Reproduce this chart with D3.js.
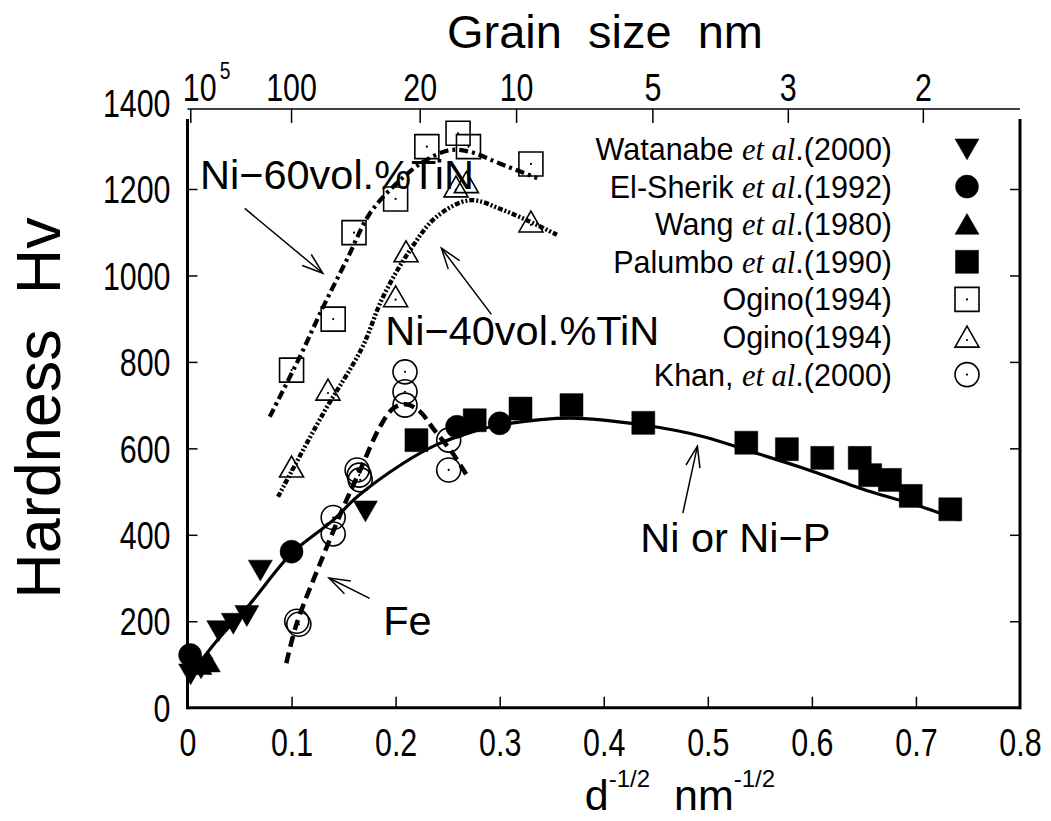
<!DOCTYPE html>
<html>
<head>
<meta charset="utf-8">
<script src="https://cdn.jsdelivr.net/npm/d3@7"></script>
<style>
  html, body { margin: 0; padding: 0; background: #fff; }
  svg { display: block; }
  text { font-family: "Liberation Sans", Arial, Helvetica, sans-serif; fill: #000; }
  .serif { font-family: "Liberation Serif", "Times New Roman", serif; font-style: italic; }
</style>
</head>
<body>
<svg id="chart" width="1051" height="821"></svg>
<script>
// ---- axis ticks ----
const xTicks = [0, 0.1, 0.2, 0.3, 0.4, 0.5, 0.6, 0.7, 0.8];
const yTicks = [0, 200, 400, 600, 800, 1000, 1200, 1400];
const grainSizes = [100000, 100, 20, 10, 5, 3, 2];      // nm, top axis
const grainLabels = ["10", "100", "20", "10", "5", "3", "2"];

// ---- measured data: [d^-1/2 (nm^-1/2), Hv] ----
const watanabe = [[0.003, 78], [0.013, 92], [0.030, 178], [0.044, 195], [0.057, 213], [0.070, 318], [0.171, 455]];
const elSherik = [[0.0025, 122], [0.100, 361], [0.259, 650], [0.300, 658]];
const wang = [[0.012, 100], [0.020, 106]];
const palumbo = [[0.220, 619], [0.276, 665], [0.320, 692], [0.369, 700], [0.438, 659], [0.537, 613],
                 [0.576, 598], [0.610, 578], [0.646, 578], [0.656, 538], [0.675, 527], [0.695, 490], [0.733, 459]];
const oginoSq = [[0.100, 781], [0.140, 899], [0.160, 1099], [0.200, 1177], [0.230, 1298], [0.260, 1329], [0.270, 1298], [0.330, 1258]];
const oginoTri = [[0.100, 557], [0.135, 735], [0.200, 951], [0.210, 1055], [0.258, 1205], [0.268, 1215], [0.330, 1124]];
const khan = [[0.105, 200], [0.107, 193], [0.140, 440], [0.140, 402], [0.163, 550], [0.165, 538], [0.166, 527],
              [0.209, 777], [0.209, 731], [0.209, 700], [0.251, 619], [0.251, 550]];

// ---- fitted trend curves ----
const curveNiP = [[0.004, 80], [0.030, 160], [0.060, 240], [0.100, 357], [0.140, 434], [0.163, 488], [0.207, 565],
                  [0.239, 608], [0.272, 637], [0.300, 654], [0.368, 670], [0.438, 654], [0.496, 627], [0.537, 596],
                  [0.592, 554], [0.656, 500], [0.700, 469], [0.742, 434]];
const curveFe = [[0.095, 103], [0.105, 195], [0.130, 349], [0.150, 465], [0.166, 550], [0.185, 650], [0.198, 693],
                 [0.210, 702], [0.2235, 685], [0.236, 646], [0.255, 588], [0.270, 531]];
const curveTiN60 = [[0.079, 673], [0.108, 812], [0.1305, 928], [0.153, 1036], [0.1754, 1144], [0.201, 1213],
                    [0.2266, 1263], [0.2523, 1290], [0.2715, 1286], [0.300, 1259], [0.336, 1225]];
const curveTiN40 = [[0.087, 488], [0.1305, 681], [0.1674, 831], [0.188, 951], [0.214, 1059], [0.2394, 1136],
                    [0.2715, 1174], [0.3035, 1151], [0.3356, 1117], [0.355, 1094]];

// ---- annotation labels and arrows (data units: tail -> tip) ----
const labels = [
  { text: "Ni\u221260vol.%TiN", at: [0.012, 1200] },
  { text: "Ni\u221240vol.%TiN", at: [0.190, 838] },
  { text: "Fe", at: [0.188, 168] },
  { text: "Ni or Ni\u2212P", at: [0.435, 360] }
];
const arrows = [
  { from: [0.055, 1155], to: [0.130, 1005] },
  { from: [0.292, 910], to: [0.244, 1063] },
  { from: [0.175, 253], to: [0.136, 300] },
  { from: [0.476, 450], to: [0.490, 605] }
];

const legendNames = [
  ["Watanabe ", "et al", ".(2000)"],
  ["El-Sherik ", "et al", ".(1992)"],
  ["Wang ", "et al", ".(1980)"],
  ["Palumbo ", "et al", ".(1990)"],
  ["Ogino(1994)", "", ""],
  ["Ogino(1994)", "", ""],
  ["Khan, ", "et al", ".(2000)"]
];

const svg = d3.select("#chart");
const x = d3.scaleLinear().domain([0, 0.8]).range([187.5, 1020]);
const y = d3.scaleLinear().domain([0, 1200]).range([707.7, 189]);
const yTopVal = 1362;   // upper end of the plotting frame
const narrow = 0.8;     // horizontal squeeze of the tall axis lettering

// ---- marker shapes ----
const shapes = {
  down: s => `M${-s / 2},${-s * 0.42}L${s / 2},${-s * 0.42}L0,${s * 0.45}Z`,
  up: s => `M${-s / 2},${s * 0.42}L${s / 2},${s * 0.42}L0,${-s * 0.45}Z`,
  square: s => `M${-s / 2},${-s / 2}h${s}v${s}h${-s}Z`,
  circle: s => `M${s / 2},0A${s / 2},${s / 2} 0 1,1 ${-s / 2},0A${s / 2},${s / 2} 0 1,1 ${s / 2},0Z`
};

const series = [
  { data: watanabe, shape: "down", filled: true, size: 24 },
  { data: elSherik, shape: "circle", filled: true, size: 23 },
  { data: wang, shape: "up", filled: true, size: 24 },
  { data: palumbo, shape: "square", filled: true, size: 23 },
  { data: oginoSq, shape: "square", filled: false, size: 24 },
  { data: oginoTri, shape: "up", filled: false, size: 24 },
  { data: khan, shape: "circle", filled: false, size: 24 }
];

function drawMarker(g, shape, filled, size) {
  g.append("path")
    .attr("d", shapes[shape](size))
    .attr("fill", filled ? "#000" : "none")
    .attr("stroke", "#000")
    .attr("stroke-width", filled ? 0.5 : 1.6);
  if (!filled) {
    g.append("circle").attr("r", 1.1).attr("cy", shape === "up" ? 3 : 0).attr("fill", "#000");
  }
}

// ---- frame ----
const frame = svg.append("g");
frame.append("line").attr("x1", x(0)).attr("x2", x(0.8)).attr("y1", y(0)).attr("y2", y(0))
  .attr("stroke", "#000").attr("stroke-width", 3);
frame.append("line").attr("x1", x(0)).attr("x2", x(0)).attr("y1", y(0) + 1.5).attr("y2", y(yTopVal))
  .attr("stroke", "#000").attr("stroke-width", 3);
frame.append("line").attr("x1", x(0.8)).attr("x2", x(0.8)).attr("y1", y(0) + 1.5).attr("y2", y(yTopVal))
  .attr("stroke", "#000").attr("stroke-width", 3);
frame.append("line").attr("x1", x(0)).attr("x2", x(0.8)).attr("y1", 109).attr("y2", 109)
  .attr("stroke", "#000").attr("stroke-width", 1.5);

// squeeze a tick label horizontally around its own anchor
function squeeze(sel) {
  sel.each(function () {
    const t = d3.select(this);
    const xx = +t.attr("x") || 0;
    t.attr("x", xx / narrow).attr("transform", `scale(${narrow},1)`);
  });
}

// ---- bottom axis ----
const xAxis = svg.append("g").attr("transform", `translate(0,${y(0)})`)
  .call(d3.axisBottom(x).tickValues(xTicks).tickFormat(d => d === 0 ? "0" : d3.format(".1f")(d))
    .tickSizeInner(-11).tickSizeOuter(0).tickPadding(21));
xAxis.select(".domain").remove();
xAxis.selectAll(".tick line").attr("stroke", "#000").attr("stroke-width", 1.5)
  .filter(d => d === 0 || d === 0.8).remove();
xAxis.selectAll(".tick text").attr("font-size", 38).attr("font-family", null).call(squeeze);

// ---- left axis ----
const yAxis = svg.append("g").attr("transform", `translate(${x(0)},0)`)
  .call(d3.axisLeft(y).tickValues(yTicks).tickFormat(d3.format("d"))
    .tickSizeInner(-10).tickSizeOuter(0).tickPadding(17));
yAxis.select(".domain").remove();
yAxis.selectAll(".tick line").attr("stroke", "#000").attr("stroke-width", 1.5)
  .filter(d => d === 0 || d > yTopVal).remove();
yAxis.selectAll(".tick text").attr("font-size", 38).attr("font-family", null).attr("dy", "0.36em").call(squeeze);

// ---- right axis ticks ----
const yAxisR = svg.append("g").attr("transform", `translate(${x(0.8)},0)`)
  .call(d3.axisRight(y).tickValues(yTicks.filter(v => v > 0 && v < yTopVal)).tickFormat("")
    .tickSizeInner(-10).tickSizeOuter(0));
yAxisR.select(".domain").remove();
yAxisR.selectAll(".tick line").attr("stroke", "#000").attr("stroke-width", 1.5);

// ---- top axis: grain size ----
const topG = svg.append("g").attr("transform", "translate(0,109)");
const topTicks = topG.selectAll("g").data(grainSizes).join("g")
  .attr("transform", d => `translate(${x(1 / Math.sqrt(d))},0)`);
topTicks.append("line").attr("y1", 0).attr("y2", 14).attr("stroke", "#000").attr("stroke-width", 1.5);
topTicks.append("text")
  .attr("y", -8)
  .attr("font-size", 38)
  .attr("text-anchor", (d, i) => i === 0 ? "start" : "middle")
  .attr("x", (d, i) => i === 0 ? -8 : 0)
  .each(function (d, i) {
    const t = d3.select(this);
    t.append("tspan").text(grainLabels[i]);
    if (i === 0) t.append("tspan").attr("font-size", 24).attr("dy", -22).attr("dx", 4).text("5");
  })
  .call(squeeze);

// ---- curves ----
const line = d3.line().x(d => x(d[0])).y(d => y(d[1])).curve(d3.curveCatmullRom.alpha(0.5));
const curves = [
  { data: curveNiP, dash: null, width: 3.2 },
  { data: curveFe, dash: "11,6", width: 4.5 },
  { data: curveTiN60, dash: "9,4,3,4", width: 4.2 },
  { data: curveTiN40, dash: "5,2,2,2,2,2", width: 4.4 }
];
svg.append("g").selectAll("path").data(curves).join("path")
  .attr("d", d => line(d.data))
  .attr("fill", "none").attr("stroke", "#000")
  .attr("stroke-width", d => d.width)
  .attr("stroke-dasharray", d => d.dash);

// ---- markers ----
series.forEach(s => {
  const g = svg.append("g");
  s.data.forEach(p => {
    const m = g.append("g").attr("transform", `translate(${x(p[0])},${y(p[1])})`);
    drawMarker(m, s.shape, s.filled, s.size);
  });
});

// ---- annotations ----
svg.append("g").selectAll("text").data(labels).join("text")
  .attr("x", d => x(d.at[0])).attr("y", d => y(d.at[1]))
  .attr("font-size", 41.5).text(d => d.text);

const arrowG = svg.append("g").attr("stroke", "#000").attr("stroke-width", 1.5).attr("fill", "none");
arrows.forEach(a => {
  const x0 = x(a.from[0]), y0 = y(a.from[1]), x1 = x(a.to[0]), y1 = y(a.to[1]);
  const ang = Math.atan2(y1 - y0, x1 - x0);
  const L = 22, spread = 0.33;
  arrowG.append("line").attr("x1", x0).attr("y1", y0).attr("x2", x1).attr("y2", y1);
  arrowG.append("path").attr("d",
    `M${x1 - L * Math.cos(ang - spread)},${y1 - L * Math.sin(ang - spread)}L${x1},${y1}` +
    `L${x1 - L * Math.cos(ang + spread)},${y1 - L * Math.sin(ang + spread)}`);
});

// ---- legend ----
const legend = svg.append("g");
legendNames.forEach((parts, i) => {
  const yy = 149 + i * 37.6;
  const t = legend.append("text").attr("x", 892).attr("y", yy).attr("dy", "0.36em")
    .attr("text-anchor", "end").attr("font-size", 30.5);
  t.append("tspan").text(parts[0]);
  if (parts[1]) {
    t.append("tspan").attr("class", "serif").text(parts[1]);
    t.append("tspan").text(parts[2]);
  }
  const s = series[i];
  const m = legend.append("g").attr("transform", `translate(967,${yy})`);
  drawMarker(m, s.shape, s.filled, s.size);
});

// ---- axis titles ----
svg.append("text").attr("x", 605).attr("y", 48).attr("text-anchor", "middle").attr("font-size", 47)
  .attr("xml:space", "preserve").text("Grain  size  nm");

const xt = svg.append("text").attr("x", 680).attr("y", 810).attr("text-anchor", "middle").attr("font-size", 43)
  .attr("xml:space", "preserve");
xt.append("tspan").text("d");
xt.append("tspan").attr("font-size", 24).attr("dy", -23).text("-1/2");
xt.append("tspan").attr("dy", 23).text("  nm");
xt.append("tspan").attr("font-size", 24).attr("dy", -23).text("-1/2");

svg.append("text").attr("transform", "translate(60,408) rotate(-90)").attr("text-anchor", "middle")
  .attr("font-size", 63).attr("xml:space", "preserve").text("Hardness  Hv");
</script>
</body>
</html>
